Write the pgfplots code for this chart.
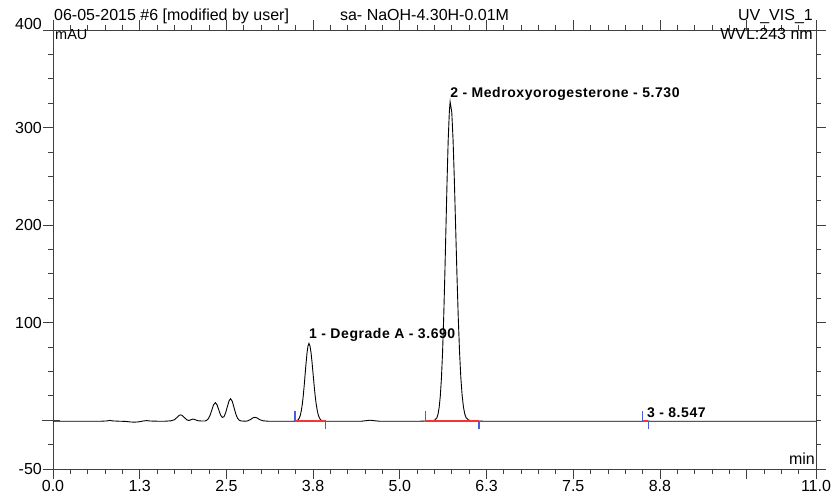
\documentclass[border=0pt]{standalone}
\usepackage{fontspec}
\setmainfont{Liberation Sans}
\newfontfamily\lblfont[LetterSpace=4]{Liberation Sans}
\usepackage{pgfplots}
\pgfplotsset{compat=1.18}
\pgfplotstableread{
t y
0 -1
0.7 -1
0.78 -0.7
0.82 -0.2
0.86 -0.7
0.95 -1
1.05 -1.2
1.12 -1.8
1.18 -2.0
1.24 -1.6
1.3 -0.8
1.35 -0.4
1.4 -0.8
1.5 -1
1.62 -1
1.7 -0.6
1.75 0.5
1.79 3.0
1.82 5.0
1.84 5.5
1.86 5.0
1.89 3.0
1.93 0.4
1.96 -0.3
2.0 0.8
2.02 1.2
2.05 0.5
2.09 -0.5
2.14 -0.8
2.19 -0.8
2.215 -0.2
2.24 1.6
2.265 5.2
2.29 10.5
2.315 15.8
2.34 18.0
2.365 15.8
2.39 10.6
2.415 5.5
2.44 2.9
2.465 3.6
2.49 7.8
2.515 14.3
2.54 20.2
2.56 22.0
2.585 19.3
2.61 12.9
2.635 6.5
2.66 2.1
2.685 0.0
2.71 -0.7
2.76 -1
2.8 -0.8
2.85 0.8
2.88 2.4
2.91 3.0
2.94 2.4
2.98 0.6
3.03 -0.6
3.1 -1
3.3 -1
3.45 -1
3.47 -1
3.4975 -0.8
3.525 -0.1
3.5388 0.8
3.5525 2.5
3.5663 5.3
3.58 9.8
3.5938 16.2
3.6075 24.8
3.6213 35.4
3.635 47.2
3.6488 59.0
3.6625 69.2
3.6763 76.1
3.69 78.8
3.705 76.1
3.72 69.2
3.735 59.0
3.75 47.2
3.765 35.4
3.78 24.8
3.795 16.2
3.81 9.8
3.825 5.3
3.84 2.5
3.855 0.8
3.87 -0.1
3.90 -0.8
3.93 -1
4.0 -1
4.45 -1
4.52 -0.4
4.57 0
4.62 -0.4
4.7 -1
5.3 -1
5.4 -0.7
5.47 -0.4
5.5025 0.0
5.535 2.6
5.5513 6.4
5.5675 13.4
5.5838 25.0
5.60 43.2
5.6163 69.7
5.6325 105.2
5.6488 148.7
5.665 197.3
5.6813 245.8
5.6975 287.6
5.7138 315.9
5.725 326.5
5.7488 315.9
5.7675 287.6
5.7863 245.8
5.805 197.3
5.8238 148.7
5.8425 105.2
5.8613 69.7
5.88 43.2
5.8988 25.0
5.9175 13.4
5.9363 6.4
5.955 2.6
5.9925 0.2
6.03 -0.5
6.1 -0.8
6.2 -1
8.5 -1
8.547 -0.6
8.6 -1
11 -1
}\chrom
\definecolor{intblue}{RGB}{70,95,220}
\definecolor{intred}{RGB}{250,50,50}
\begin{document}
\begin{tikzpicture}
\useasboundingbox (-53pt,-30pt) rectangle (781pt,469pt);
\begin{axis}[at={(0pt,0pt)}, anchor=south west, scale only axis,
  width=763pt, height=439pt,
  xmin=0, xmax=11, ymin=-50, ymax=400,
  axis line style={black!75, line width=0.8pt},
  tick align=outside, tick style={black!75, line width=0.8pt},
  major tick length=10pt, minor tick length=5pt,
  xtick={0,1.25,2.5,3.75,5,6.25,7.5,8.75,10,11},
  xticklabels={0.0,1.3,2.5,3.8,5.0,6.3,7.5,8.8,,11.0},
  minor xtick={0,0.25,...,11},
  ytick={-50,100,200,300},
  yticklabels={-50,100,200,300},
  minor ytick={-50,-25,...,400},
  extra y ticks={400}, extra y tick labels={400},
  extra y tick style={yticklabel style={yshift=6pt}},
  ticklabel style={font=\fontsize{16}{16}\selectfont},
  xticklabel style={inner sep=1pt},
  yticklabel style={inner sep=1pt},
  clip=false,
]
\addplot[black, line width=0.9pt] table[x=t, y=y] {\chrom};
% integration baselines
\addplot[color=intred, line width=1.3pt] coordinates {(3.49,-0.9) (3.93,-0.9)};
\addplot[color=intred, line width=1.3pt] coordinates {(5.37,-0.9) (6.14,-0.9)};
\addplot[color=intred, line width=1.3pt] coordinates {(8.50,-0.9) (8.58,-0.9)};
\addplot[color=intblue, line width=1.2pt] coordinates {(3.49,-1) (3.49,9.5)};
\addplot[color=intblue, line width=1.2pt] coordinates {(3.93,-1) (3.93,-9.5)};
\addplot[color=intblue, line width=1.2pt] coordinates {(5.37,-1) (5.37,9.5)};
\addplot[color=intblue, line width=1.2pt] coordinates {(6.14,-1) (6.14,-9.5)};
\addplot[color=intblue, line width=1.2pt] coordinates {(8.50,-1) (8.50,9.5)};
\addplot[color=intblue, line width=1.2pt] coordinates {(8.58,-1) (8.58,-9.5)};
% zero crossing tick
\draw[black!75, line width=0.8pt] ([xshift=-11pt]axis cs:0,0) -- ([xshift=7pt]axis cs:0,0);
% peak labels
\node[anchor=base west, inner sep=0pt, yshift=4pt, font=\lblfont\bfseries\fontsize{14}{14}\selectfont] at (axis cs:5.725,326.5) {2 - Medroxyorogesterone - 5.730};
\node[anchor=base west, inner sep=0pt, yshift=4.5pt, font=\lblfont\bfseries\fontsize{14}{14}\selectfont] at (axis cs:3.69,78.8) {1 - Degrade A - 3.690};
\node[anchor=base west, inner sep=0pt, xshift=1pt, yshift=3.5pt, font=\lblfont\bfseries\fontsize{14}{14}\selectfont] at (axis cs:8.547,-1) {3 - 8.547};
% header texts
\node[anchor=base west, inner sep=0pt, xshift=1pt, yshift=9pt, font=\fontsize{16}{16}\selectfont] at (rel axis cs:0,1) {06-05-2015 \#6 [modified by user]};
\node[anchor=base west, inner sep=0pt, yshift=9pt, font=\fontsize{16}{16}\selectfont] at (rel axis cs:0.376,1) {sa- NaOH-4.30H-0.01M};
\node[anchor=base east, inner sep=0pt, xshift=-3pt, yshift=9pt, font=\fontsize{16}{16}\selectfont] at (rel axis cs:1,1) {UV\_VIS\_1};
\node[anchor=base east, inner sep=0pt, xshift=-3pt, yshift=-10pt, font=\fontsize{16}{16}\selectfont] at (rel axis cs:1,1) {WVL:243 nm};
\node[anchor=base west, inner sep=0pt, xshift=2pt, yshift=-10pt, font=\fontsize{14.5}{14.5}\selectfont] at (rel axis cs:0,1) {mAU};
\node[anchor=base east, inner sep=0pt, xshift=-1pt, yshift=4.5pt, font=\fontsize{16}{16}\selectfont] at (rel axis cs:1,0) {min};
\end{axis}
\end{tikzpicture}
\end{document}
